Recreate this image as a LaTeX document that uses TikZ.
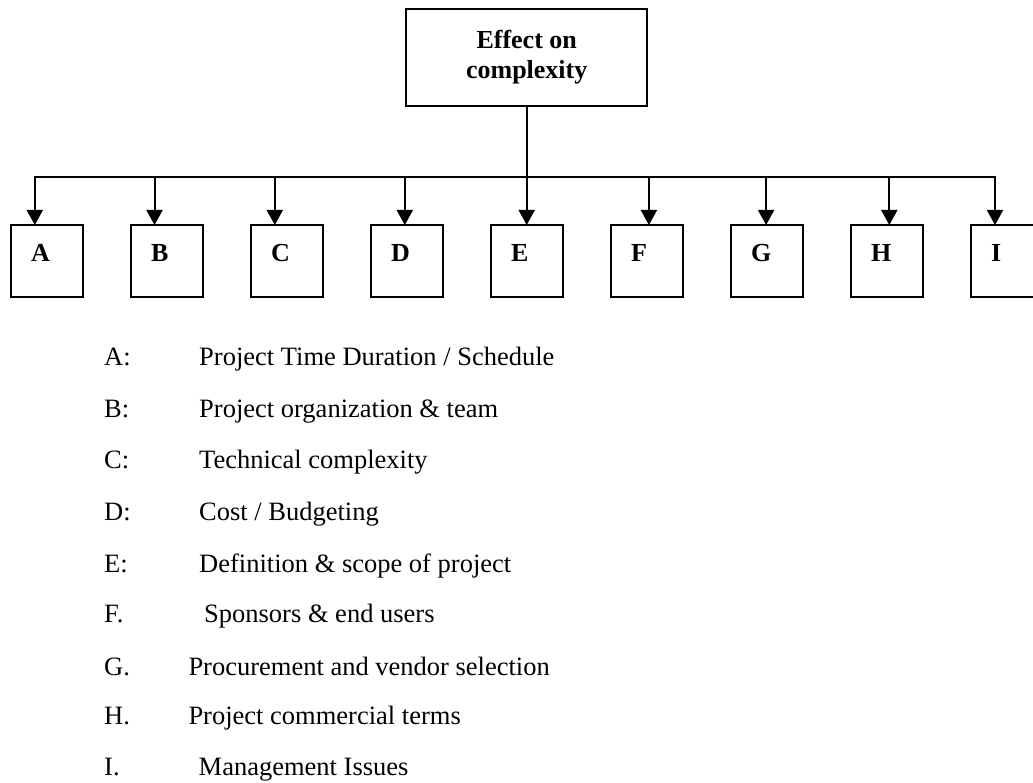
\documentclass[tikz,border=0pt]{standalone}
\usepackage{fontspec}
\setmainfont{Liberation Serif}
\usetikzlibrary{positioning,arrows.meta}
\begin{document}
\begin{tikzpicture}[x=1pt,y=-1pt,
                headbox/.style={draw, line width=2pt, minimum width=241pt, minimum height=97pt,
                  align=center, font=\bfseries\fontsize{26}{30}\selectfont},
                letterbox/.style={
                  draw, line width=2pt, outer sep=0pt, % letter sits near the top left corner
                  inner xsep=20pt, inner ysep=0pt, text width=32pt,
                  text height=37pt, text depth=35pt, align=left,
                  font=\bfseries\fontsize{26}{30}\selectfont
                },
                feed/.style={line width=2pt, -{Triangle[length=15pt,width=16pt]}},
                key/.style={anchor=base west, inner sep=0pt, font=\fontsize{26.5}{30}\selectfont}
                ]
                \useasboundingbox (0,0) rectangle (1033,783);
                \node [headbox] (top) at (526.7,57.5) {Effect on\\complexity};
                \node [letterbox, anchor=north west] (A) at (11,225) {A};
                \node [letterbox, right=48pt of A] (B) {B};
                \node [letterbox, right=48pt of B] (C) {C};
                \node [letterbox, right=48pt of C] (D) {D};
                \node [letterbox, right=48pt of D] (E) {E};
                \node [letterbox, right=48pt of E] (F) {F};
                \node [letterbox, right=48pt of F] (G) {G};
                \node [letterbox, right=48pt of G] (H) {H};
                \node [letterbox, right=48pt of H] (I) {I};
                \coordinate (busA) at (34.8,177);
                \coordinate (busB) at (154.5,177);
                \coordinate (busC) at (274.8,177);
                \coordinate (busD) at (404.8,177);
                \coordinate (busE) at (526.7,177);
                \coordinate (busF) at (648.9,177);
                \coordinate (busG) at (766.1,177);
                \coordinate (busH) at (889.3,177);
                \coordinate (busI) at (995,177);
                \draw [line width=2pt] (top.south) -- (busE);
                \draw [line width=2pt, line cap=rect] (busA) -- (busI);
                \draw [feed] (busA) -- (busA |- A.north);
                \draw [feed] (busB) -- (busB |- B.north);
                \draw [feed] (busC) -- (busC |- C.north);
                \draw [feed] (busD) -- (busD |- D.north);
                \draw [feed] (busE) -- (busE |- E.north);
                \draw [feed] (busF) -- (busF |- F.north);
                \draw [feed] (busG) -- (busG |- G.north);
                \draw [feed] (busH) -- (busH |- H.north);
                \draw [feed] (busI) -- (busI |- I.north);
                \node [key] (kA) at (104,365.7) {A:};
                \node [key] (kB) at (104,417.3) {B:};
                \node [key] (kC) at (104,468.7) {C:};
                \node [key] (kD) at (104,520) {D:};
                \node [key] (kE) at (104,572.3) {E:};
                \node [key] (kF) at (104,622.7) {F.};
                \node [key] (kG) at (104,675) {G.};
                \node [key] (kH) at (104,724.3) {H.};
                \node [key] (kI) at (104,775) {I.};
                \node [key] (dA) at (199,365.7) {Project Time Duration / Schedule};
                \node [key] (dB) at (199,417.3) {Project organization \& team};
                \node [key] (dC) at (199,468.7) {Technical complexity};
                \node [key] (dD) at (199,520) {Cost / Budgeting};
                \node [key] (dE) at (199,572.3) {Definition \& scope of project};
                \node [key] (dF) at (204,622.7) {Sponsors \& end users};
                \node [key] (dG) at (188.3,675) {Procurement and vendor selection};
                \node [key] (dH) at (188.3,724.3) {Project commercial terms};
                \node [key] (dI) at (198.5,775) {Management Issues};
\end{tikzpicture}
\end{document}
